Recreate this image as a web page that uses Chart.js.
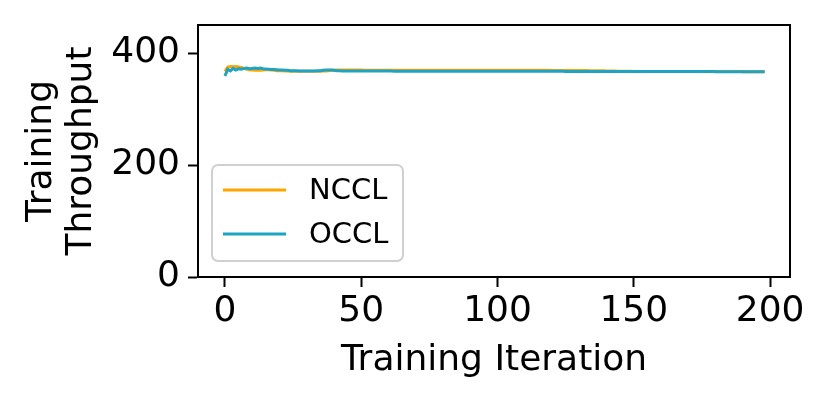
<!DOCTYPE html>
<html>
<head>
<meta charset="utf-8">
<script src="https://cdn.jsdelivr.net/npm/chart.js@4"></script>
<style>
  html, body { margin: 0; padding: 0; background: #fff; }
</style>
</head>
<body>
<canvas id="chart" width="830" height="399"></canvas>
<script>
const seriesNames = ['NCCL', 'OCCL'];
const xTicks = [0, 50, 100, 150, 200];
const yTicks = [0, 200, 400];

// throughput per training iteration (0..198)
const nccl = [
  367, 375, 376, 375.5, 376, 375, 374, 372.5, 371, 370,
  369.5, 369, 369, 369, 369.5, 370, 370, 369.5, 369, 368.5,
  368.5, 368.5, 368, 368, 367.5, 367.5, 367.5, 367.5, 367.5, 367.5,
  367.5, 367.5, 367.5, 367.5, 367.5, 367.5, 368, 368, 368.5, 369,
  369, 369.5, 369.5, 369.5, 369.5, 369.5, 369.5, 369.5, 369.5, 369.5,
  369.5, 369.4, 369.4, 369.4, 369.4, 369.4, 369.4, 369.4, 369.4, 369.4,
  369.4, 369.4, 369.4, 369.3, 369.3, 369.3, 369.3, 369.3, 369.3, 369.3,
  369.3, 369.3, 369.3, 369.3, 369.3, 369.3, 369.3, 369.3, 369.3, 369.3,
  369.2, 369.2, 369.2, 369.2, 369.2, 369.2, 369.2, 369.2, 369.2, 369.2,
  369.2, 369.2, 369.1, 369.1, 369.1, 369.1, 369.1, 369.1, 369.1, 369.1,
  369.1, 369.1, 369.1, 369.1, 369.1, 369, 369, 369, 369, 369,
  369, 369, 369, 369, 369, 369, 369, 369, 369, 369,
  368.9, 368.9, 368.9, 368.9, 368.9, 368.9, 368.8, 368.8, 368.8, 368.8,
  368.7, 368.7, 368.6, 368.6, 368.5, 368.5, 368.4, 368.3, 368.2, 368.1,
  368, 367.9, 367.8, 367.7, 367.6, 367.5, 367.4, 367.3, 367.2, 367.2,
  367.1, 367.1, 367.1, 367, 367, 367, 367, 367, 367, 367,
  367, 367, 367, 367, 367, 367, 367, 367, 367, 367,
  366.9, 366.9, 366.9, 366.9, 366.9, 366.9, 366.9, 366.9, 366.9, 366.9,
  366.8, 366.8, 366.8, 366.8, 366.8, 366.8, 366.8, 366.8, 366.8, 366.8,
  366.7, 366.7, 366.7, 366.7, 366.7, 366.7, 366.7, 366.7, 366.7
];

const occl = [
  359, 371, 368, 372.5, 369.5, 372, 371, 372.5, 373, 372,
  372.5, 373, 372.5, 373, 372, 371.5, 371, 370.5, 370.5, 370,
  369.5, 369.5, 369, 369, 368.5, 368.5, 368.5, 368, 368, 368,
  368, 368, 368, 368, 368.5, 368.5, 369, 369.5, 369.5, 369.5,
  369, 368.5, 368.5, 368, 368, 368, 368, 368, 367.8, 367.8,
  367.8, 367.8, 367.8, 367.8, 367.7, 367.7, 367.7, 367.7, 367.7, 367.7,
  367.7, 367.7, 367.6, 367.6, 367.6, 367.6, 367.6, 367.6, 367.6, 367.6,
  367.6, 367.6, 367.6, 367.6, 367.5, 367.5, 367.5, 367.5, 367.5, 367.5,
  367.5, 367.5, 367.5, 367.5, 367.5, 367.5, 367.5, 367.5, 367.5, 367.5,
  367.4, 367.4, 367.4, 367.4, 367.4, 367.4, 367.4, 367.4, 367.4, 367.4,
  367.4, 367.4, 367.4, 367.3, 367.3, 367.3, 367.3, 367.3, 367.3, 367.3,
  367.3, 367.3, 367.3, 367.3, 367.3, 367.2, 367.2, 367.2, 367.2, 367.2,
  367.2, 367.2, 367.2, 367.2, 367.2, 367.1, 367.1, 367.1, 367.1, 367.1,
  367.1, 367.1, 367.1, 367.1, 367.1, 367, 367, 367, 367, 367,
  367, 367, 367, 367, 367, 367, 367, 367, 367, 367,
  366.9, 366.9, 366.9, 366.9, 366.9, 366.9, 366.9, 366.9, 366.9, 366.9,
  366.9, 366.9, 366.9, 366.9, 366.9, 366.8, 366.8, 366.8, 366.8, 366.8,
  366.8, 366.8, 366.8, 366.8, 366.8, 366.8, 366.8, 366.8, 366.8, 366.8,
  366.7, 366.7, 366.7, 366.7, 366.7, 366.7, 366.7, 366.7, 366.7, 366.7,
  366.7, 366.7, 366.7, 366.7, 366.7, 366.7, 366.7, 366.7, 366.7
];

const FONT = 'DejaVu Sans';

// top and right spines
const framePlugin = {
  id: 'frame',
  afterDatasetsDraw(chart) {
    const { ctx, chartArea: a } = chart;
    ctx.save();
    ctx.strokeStyle = '#000';
    ctx.lineWidth = 2;
    ctx.beginPath();
    ctx.moveTo(a.left, a.top);
    ctx.lineTo(a.right, a.top);
    ctx.lineTo(a.right, a.bottom);
    ctx.stroke();
    ctx.restore();
  }
};

// matplotlib-style legend inside the plot, lower left
const legendPlugin = {
  id: 'innerLegend',
  afterDraw(chart) {
    const { ctx, chartArea: a } = chart;
    const x = a.left + 14, y = 165, w = 191, h = 96, r = 6;
    ctx.save();
    ctx.fillStyle = 'rgba(255,255,255,0.8)';
    ctx.strokeStyle = '#d0d0d0';
    ctx.lineWidth = 2;
    ctx.beginPath();
    ctx.roundRect(x, y, w, h, r);
    ctx.fill();
    ctx.stroke();
    ctx.font = '29px "' + FONT + '"';
    ctx.textBaseline = 'middle';
    chart.data.datasets.forEach((ds, i) => {
      const ly = y + 25 + i * 44;
      ctx.strokeStyle = ds.borderColor;
      ctx.lineWidth = 3;
      ctx.beginPath();
      ctx.moveTo(x + 11, ly);
      ctx.lineTo(x + 74, ly);
      ctx.stroke();
      ctx.fillStyle = '#000';
      ctx.fillText(ds.label, x + 97, ly + 1);
    });
    ctx.restore();
  }
};

const toPoints = arr => arr.map((v, i) => ({ x: i, y: v }));

new Chart(document.getElementById('chart'), {
  type: 'line',
  data: {
    datasets: [
      { label: seriesNames[0], data: toPoints(nccl), borderColor: '#ffa500', borderWidth: 3, pointRadius: 0, order: 1 },
      { label: seriesNames[1], data: toPoints(occl), borderColor: '#1fa3c2', borderWidth: 3, pointRadius: 0, order: 0 }
    ]
  },
  options: {
    responsive: false,
    animation: false,
    layout: { padding: { top: 25, right: 40, left: 0, bottom: 0 } },
    plugins: { legend: { display: false }, tooltip: { enabled: false } },
    scales: {
      x: {
        type: 'linear',
        min: -9.9,
        max: 207.3,
        afterBuildTicks: s => { s.ticks = xTicks.map(v => ({ value: v })); },
        afterFit: s => { s.height = 122; s.paddingLeft = 0; s.paddingRight = 0; },
        ticks: { color: '#000', font: { family: FONT, size: 36 }, padding: 3, maxRotation: 0 },
        grid: { drawOnChartArea: false, tickLength: 10, tickWidth: 2, tickColor: '#000' },
        border: { color: '#000', width: 2 },
        title: {
          display: true, text: 'Training Iteration', color: '#000',
          font: { family: FONT, size: 36 }, padding: { top: 0, bottom: 17 }
        }
      },
      y: {
        min: 0,
        max: 450,
        afterBuildTicks: s => { s.ticks = yTicks.map(v => ({ value: v })); },
        afterFit: s => { s.width = 198; s.paddingTop = 0; s.paddingBottom = 0; },
        ticks: { color: '#000', font: { family: FONT, size: 36 }, padding: 8 },
        grid: { drawOnChartArea: false, tickLength: 10, tickWidth: 2, tickColor: '#000' },
        border: { color: '#000', width: 2 },
        title: {
          display: true, text: ['Training', 'Throughput'], color: '#000',
          font: { family: FONT, size: 36, lineHeight: 1.1 }, padding: { top: 22, bottom: 0 }
        }
      }
    }
  },
  plugins: [framePlugin, legendPlugin]
});
</script>
</body>
</html>
